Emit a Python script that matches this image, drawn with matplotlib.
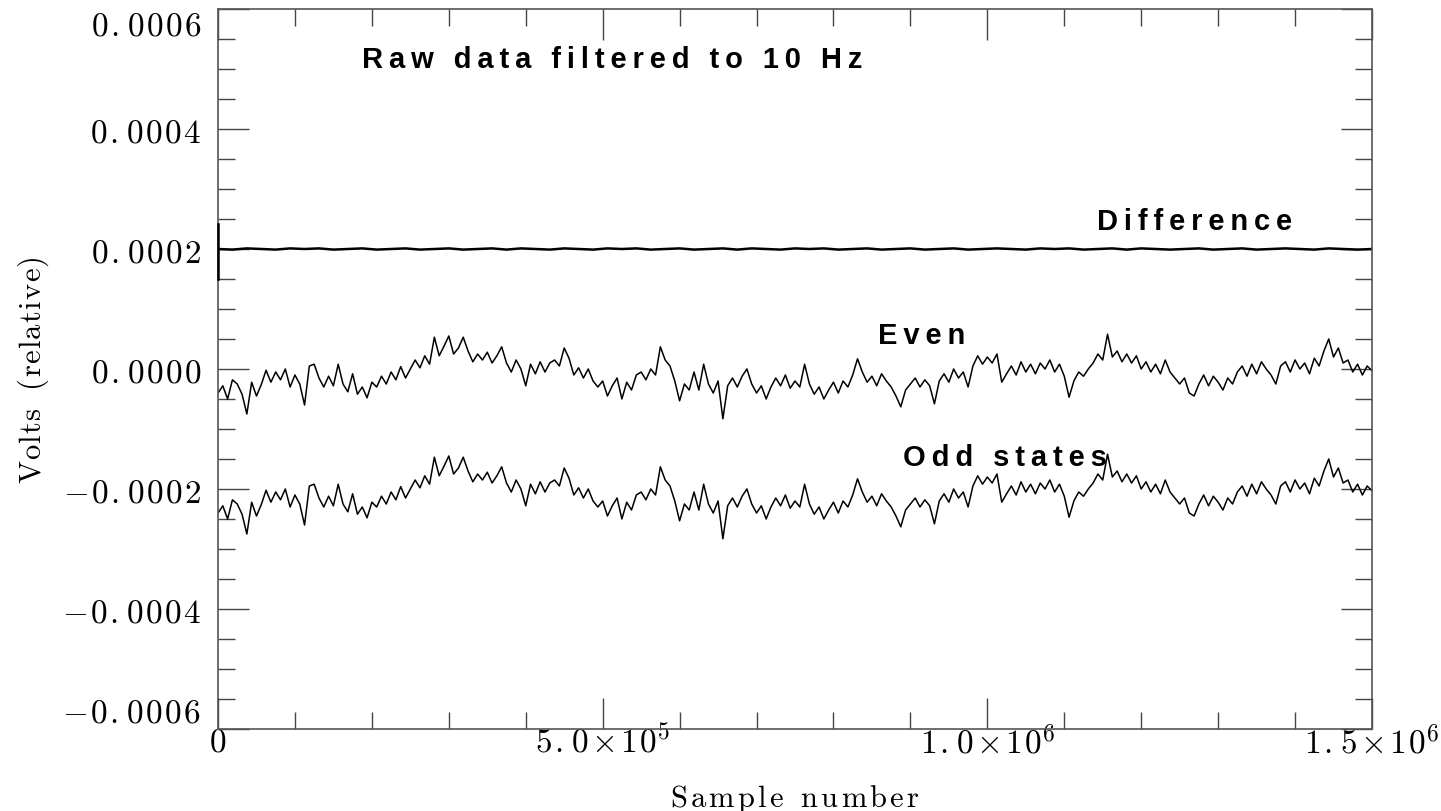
import numpy as np
import matplotlib.pyplot as plt
from matplotlib.ticker import MultipleLocator, FixedLocator

plt.rcParams["mathtext.fontset"] = "cm"

# values, in microvolts, 241 evenly spaced samples over 0..1.5e6
even_uv = [
    -40, -28, -50, -18, -25, -42, -75, -22, -45, -26,
    -2, -22, -5, -18, 0, -30, -10, -25, -60, 5,
    8, -15, -30, -12, -28, 8, -25, -38, -8, -42,
    -30, -48, -22, -30, -12, -25, -5, -18, 4, -15,
    0, 15, 2, 22, 8, 53, 22, 38, 55, 25,
    35, 53, 30, 12, 25, 15, 28, 10, 22, 37,
    10, -5, 15, 0, -28, 8, -8, 12, -5, 10,
    15, 5, 35, 18, -10, 2, -15, 0, -20, -30,
    -20, -45, -28, -15, -50, -22, -35, -10, -5, -18,
    0, -10, 37, 15, 5, -20, -53, -25, -35, -5,
    -35, 8, -25, -40, -20, -83, -28, -15, -30, -12,
    0, -25, -40, -28, -50, -30, -15, -28, -10, -32,
    -20, -30, 8, -25, -42, -30, -50, -35, -22, -40,
    -20, -30, -10, 17, -5, -22, -12, -28, -8, -20,
    -30, -45, -63, -35, -25, -15, -30, -18, -28, -58,
    -20, -8, -22, 0, -15, -5, -30, 5, 22, 8,
    20, 10, 25, -22, -8, 5, -10, 12, -5, 8,
    -8, 10, 0, 15, -5, 8, -12, -47, -20, -5,
    -12, 0, 10, 25, 15, 58, 20, 30, 12, 25,
    10, 22, 0, 12, -5, 8, -8, 15, -5, -15,
    -25, -15, -40, -45, -25, -10, -28, -12, -22, -35,
    -15, -25, -5, 5, -12, 8, -8, 12, 0, -10,
    -25, 5, 12, -5, 15, 0, 10, -8, 18, 5,
    30, 50, 20, 35, 10, 15, -5, 8, -10, 5, -3,
]

odd_uv = [
    -240, -228, -250, -218, -225, -242, -275, -222, -245, -226,
    -202, -222, -205, -218, -200, -230, -210, -225, -260, -195,
    -192, -215, -230, -212, -228, -192, -225, -238, -208, -242,
    -230, -248, -222, -230, -212, -225, -205, -218, -196, -215,
    -200, -185, -198, -178, -192, -147, -178, -162, -145, -175,
    -165, -147, -170, -188, -175, -185, -172, -190, -178, -163,
    -190, -205, -185, -200, -228, -192, -208, -188, -205, -190,
    -185, -195, -165, -182, -210, -198, -215, -200, -220, -230,
    -220, -245, -228, -215, -250, -222, -235, -210, -205, -218,
    -200, -210, -163, -185, -195, -220, -253, -225, -235, -205,
    -235, -192, -225, -240, -220, -283, -228, -215, -230, -212,
    -200, -225, -240, -228, -250, -230, -215, -228, -210, -232,
    -220, -230, -192, -225, -242, -230, -250, -235, -222, -240,
    -220, -230, -210, -183, -205, -222, -212, -228, -208, -220,
    -230, -245, -263, -235, -225, -215, -230, -218, -228, -258,
    -220, -208, -222, -200, -215, -205, -230, -195, -178, -192,
    -180, -190, -175, -222, -208, -195, -210, -188, -205, -192,
    -208, -190, -200, -185, -205, -192, -212, -247, -220, -205,
    -212, -200, -190, -175, -185, -142, -180, -170, -188, -175,
    -190, -178, -200, -188, -205, -192, -208, -185, -205, -215,
    -225, -215, -240, -245, -225, -210, -228, -212, -222, -235,
    -215, -225, -205, -195, -212, -192, -208, -188, -200, -210,
    -225, -195, -188, -205, -185, -200, -190, -208, -182, -195,
    -170, -150, -180, -165, -190, -185, -205, -192, -210, -195, -203,
]

# the difference trace starts with a short glitch right at sample 0
diff_start_uv = [242, 150]
diff_uv = [
    200, 199, 201, 200, 199, 201, 200, 201, 199, 200,
    201, 199, 200, 201, 199, 200, 201, 199, 200, 201,
    199, 201, 200, 199, 201, 200, 199, 201, 200, 201,
    199, 200, 201, 199, 200, 201, 199, 201, 200, 199,
    201, 200, 201, 199, 200, 201, 199, 200, 201, 199,
    200, 201, 199, 200, 201, 200, 199, 201, 200, 201,
    199, 200, 201, 199, 201, 200, 199, 200, 201, 199,
    200, 201, 199, 200, 201, 200, 199, 201, 200, 199, 200,
]

yticks = [-0.0006, -0.0004, -0.0002, 0.0, 0.0002, 0.0004, 0.0006]
ytick_labels = ["-0.0006", "-0.0004", "-0.0002", "0.0000", "0.0002", "0.0004", "0.0006"]
xticks = [0, 5e5, 1e6, 1.5e6]
xtick_labels = ["0", "5.0*10^5", "1.0*10^6", "1.5*10^6"]


def spaced_math(s, gap=0.08):
    out = []
    for part in s.split(" "):
        chars = []
        i = 0
        while i < len(part):
            c = part[i]
            if c == "^":
                chars[-1] += "^{%s}" % part[i + 1]
                i += 2
                continue
            if c == "*":
                chars.append(r"\!\times\!")
            elif c.isalpha():
                chars.append(r"\mathrm{%s}" % c)
            else:
                chars.append(c)
            i += 1
        out.append((r"\hspace{%s}" % gap).join(chars))
    return "$" + r"\ \ ".join(out) + "$"


def spaced(s):
    return "\u2009".join(s)


x_even = np.linspace(0, 1.5e6, len(even_uv))
x_diff = np.linspace(0, 1.5e6, len(diff_uv))

fig = plt.figure(figsize=(14.41, 8.12), dpi=100)
ax = fig.add_axes([218 / 1441, 82 / 812, 1154 / 1441, 720 / 812])

ax.plot(x_even, np.array(even_uv) * 1e-6, color="black", lw=1.1)
ax.plot(x_even, np.array(odd_uv) * 1e-6, color="black", lw=1.1)
ax.plot([0] * len(diff_start_uv), np.array(diff_start_uv) * 1e-6, color="black", lw=1.8,
        clip_on=False, zorder=4)
ax.plot(x_diff, np.array(diff_uv) * 1e-6, color="black", lw=1.8)

ax.set_xlim(0, 1.5e6)
ax.set_ylim(-0.0006, 0.0006)

ax.yaxis.set_major_locator(FixedLocator(yticks))
ylabels = ax.set_yticklabels([spaced_math(t) for t in ytick_labels], fontsize=24)
# first and last labels sit inside the frame, as in the original
ylabels[0].set_va("bottom")
ylabels[-1].set_va("top")
ax.yaxis.set_minor_locator(MultipleLocator(0.00005))
ax.xaxis.set_major_locator(FixedLocator(xticks))
ax.set_xticklabels([spaced_math(t) for t in xtick_labels], fontsize=24)
ax.xaxis.set_minor_locator(MultipleLocator(1e5))

ax.tick_params(which="both", direction="in", top=True, right=True, color="#444444")
ax.tick_params(which="major", length=22, width=1)
ax.tick_params(which="minor", length=12, width=1)
ax.tick_params(axis="y", pad=12)
ax.tick_params(axis="x", pad=-3)
for s in ax.spines.values():
    s.set_color("#555555")
    s.set_linewidth(1.2)

ax.set_ylabel(spaced_math("Volts (relative)", 0.05), fontsize=22, labelpad=8)
ax.set_xlabel(spaced_math("Sample number", 0.12), fontsize=22, labelpad=16)

bold = dict(fontweight="bold", family=["Liberation Sans", "DejaVu Sans"], color="black")
ax.text(1.87e5, 0.000517, spaced("Raw data filtered to 10 Hz"), fontsize=21, va="center", ha="left", **bold)
ax.text(1.143e6, 0.000247, spaced("Difference"), fontsize=21, va="center", ha="left", **bold)
ax.text(8.58e5, 0.0000567, spaced("Even"), fontsize=21, va="center", ha="left", **bold)
ax.text(8.9e5, -0.000147, spaced("Odd states"), fontsize=21, va="center", ha="left", **bold)

fig.savefig("out.png", dpi=100)
